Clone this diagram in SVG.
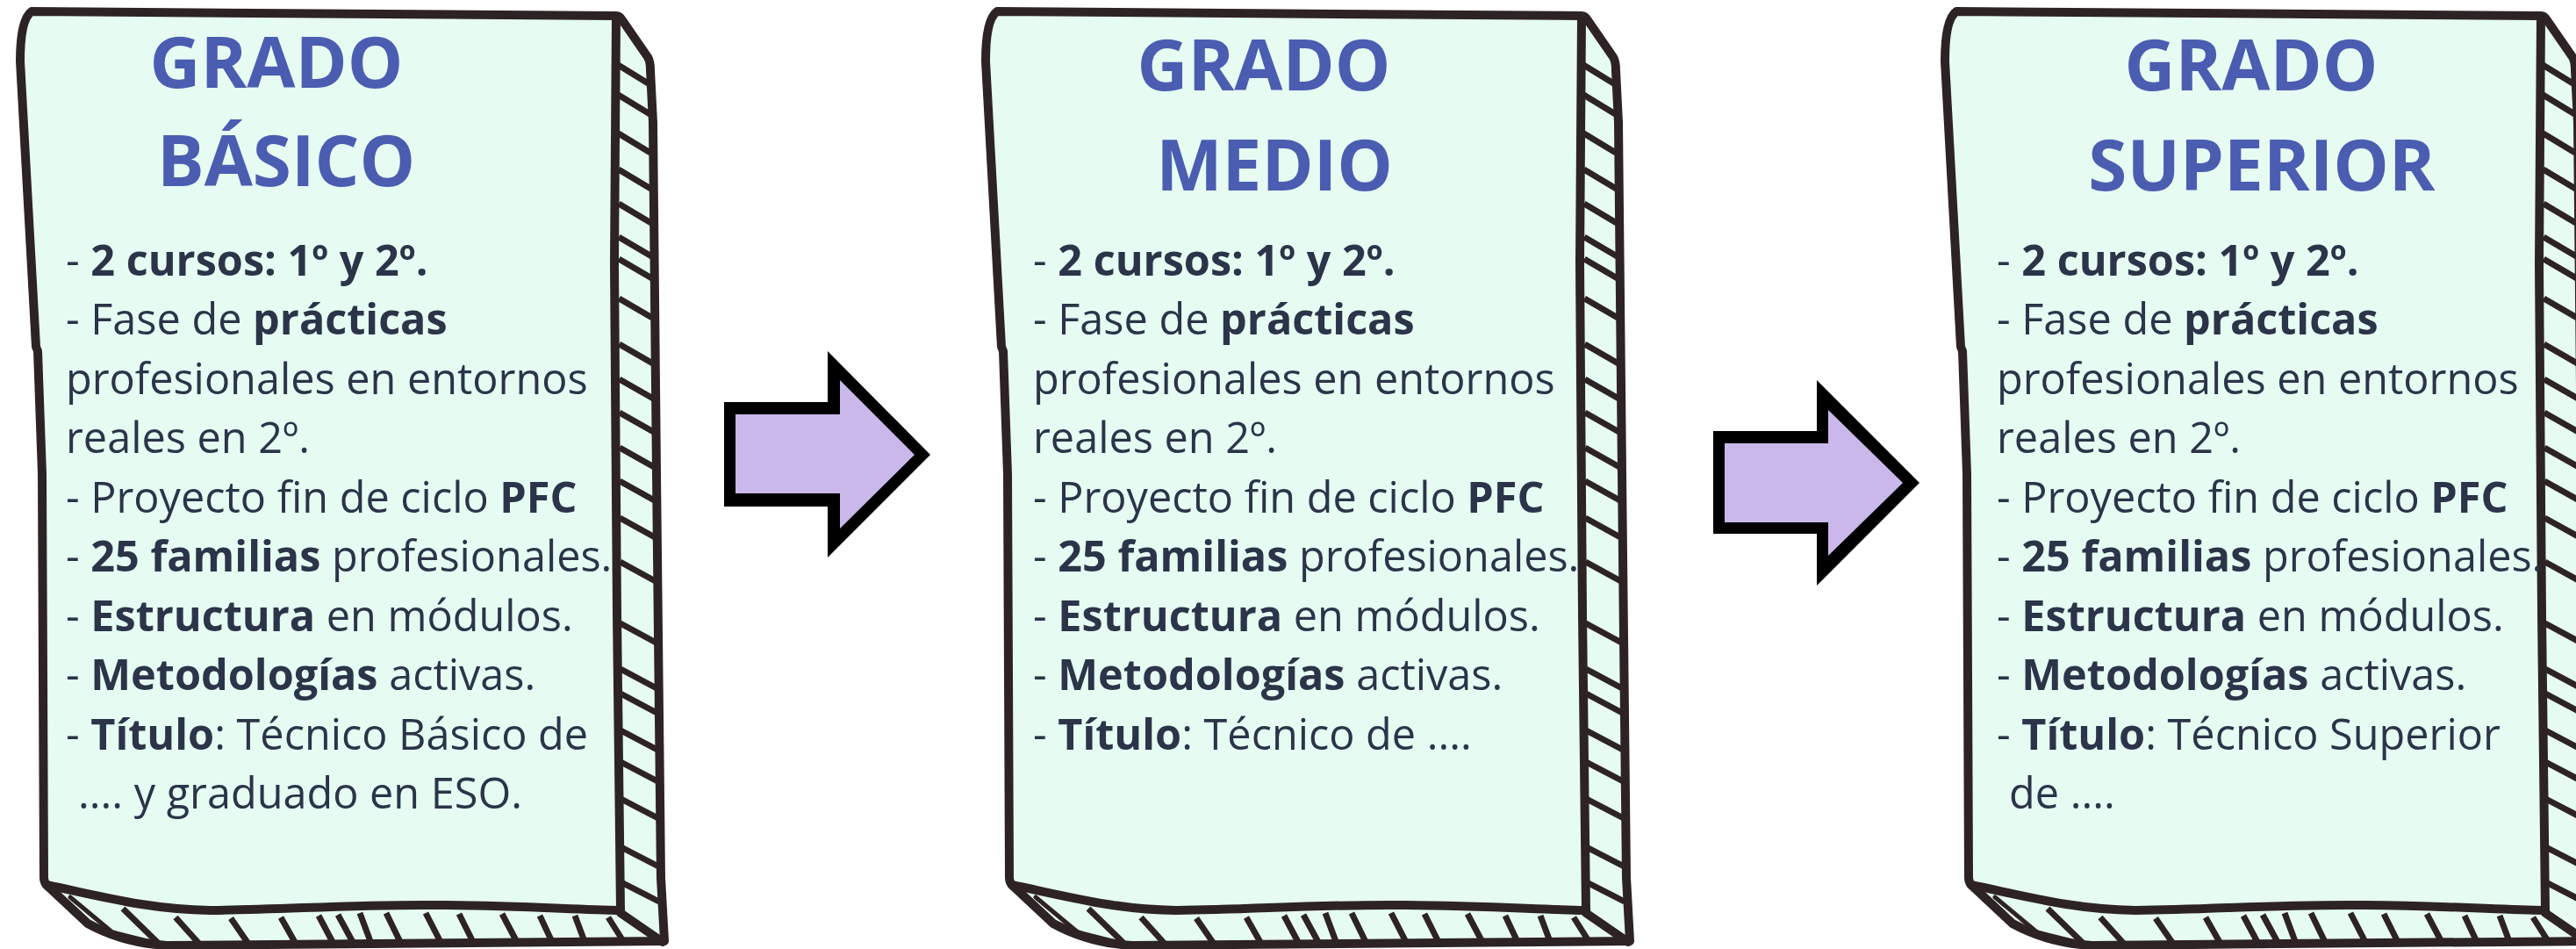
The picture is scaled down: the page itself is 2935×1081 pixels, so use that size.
<svg xmlns="http://www.w3.org/2000/svg" xmlns:xlink="http://www.w3.org/1999/xlink" width="2935" height="1081" viewBox="0 0 2935 1081">
<style>
.fill{fill:#e6fcf3}
.ol{fill:none;stroke:#2e2324;stroke-width:10;stroke-linejoin:round;stroke-linecap:round}
.thin{fill:none;stroke:#2e2324;stroke-width:5;stroke-linejoin:round;stroke-linecap:round}
.hatch{fill:none;stroke:#2e2324;stroke-width:7;stroke-linecap:butt}
.title{font-family:"Open Sans","Liberation Sans",sans-serif;font-weight:700;font-size:80px;fill:#4b5db1;text-anchor:middle}
.body{font-family:"Open Sans","Liberation Sans",sans-serif;font-size:48.6px;fill:#2b3448}
.b{font-weight:700}
.aout{fill:#000000}
.ain{fill:#cbb8ea}
</style>
<defs>
<g id="card">
<path class="fill" d="M36,13 L702,18 Q706,18 709,23 L738,65 Q741,70 741,80 L744,140 L748,540 L753,1000 L757,1072 L190,1077 Q140,1074 100,1052 L55,1010 Q50,1006 50,1000 L48,540 L43,400 L41,395 L23,70 Q23,22 36,13 Z"/>
<path class="ol" d="M36,13 L702,18 Q706,18 709,23 L738,65 Q741,70 741,80 L744,140 L748,540 L753,1000 L757,1072 L190,1077 Q140,1074 100,1052 L55,1010 Q50,1006 50,1000 L48,540 L43,400 L41,395 L23,70 Q23,22 36,13 Z"/>
<path class="ol" d="M702,20 L700,300 L703,700 L707,1037"/>
<path class="ol" d="M53,1008 C120,1022 170,1036 240,1037 C330,1036 400,1030 500,1031 C600,1032 650,1036 707,1037"/>
<path class="ol" d="M707,1040 L755,1073"/>
<path class="thin" d="M80,1022 L128,1062 L172,1073"/>
<path class="hatch" d="M704.3,74 L740.1,96 M704.4,108 L740.5,130 M704.6,152 L741,174 M704.7,193 L741.5,215 M704.9,232 L741.9,254 M705,270 L742.4,292 M705.1,295 L742.7,317 M705.3,340 L743.2,362 M705.5,392 L743.8,414 M705.7,432 L744.3,454 M705.8,470 L744.7,492 M706,510 L745.2,532 M706.1,548 L745.6,570 M706.3,590 L746.1,612 M706.5,640 L746.7,662 M706.7,710 L747.5,732 M706.9,762 L748.1,784 M707,790 L748.4,812 M707.2,832 L748.9,854 M707.3,868 L749.3,890 M707.5,910 L749.8,932 M707.7,965 L750.4,987 M707.9,1005 L750.9,1027"/>
<path class="hatch" d="M140,1035 L180,1074 M200,1045 L227,1075 M263,1046 L283,1075 M320,1045 L337,1075 M363,1043 L380,1075 M385,1042 L403,1075 M410,1040 L423,1075 M440,1040 L457,1075 M485,1040 L503,1075 M523,1041 L540,1075 M572,1041 L590,1075 M615,1043 L630,1075 M655,1043 L667,1075 M693,1045 L712,1075"/>
</g>
</defs>

<g id="connectors">
<g id="arrow-1">
<polygon class="aout" points="825,458 943,458 943,400 1060,518 943,635 943,577 825,577"/>
<polygon class="ain" points="838,472 957,472 957,433 1042,518 957,602 957,562 838,562"/>
</g>
<g id="arrow-2">
<polygon class="aout" points="1952,491 2070,491 2070,433 2187,550 2070,667 2070,608 1952,608"/>
<polygon class="ain" points="1965,505 2083,505 2083,467 2168,550 2083,633 2083,595 1965,595"/>
</g>
</g>

<g id="node-grado-basico">
<use xlink:href="#card" href="#card"/>
<text class="title" x="315" y="100">GRADO</text>
<text class="title" x="326" y="212">BÁSICO</text>
<text class="body" x="75" y="314">- <tspan class="b">2 cursos: 1º y 2º.</tspan></text>
<text class="body" x="75" y="381">- Fase de <tspan class="b">prácticas</tspan></text>
<text class="body" x="75" y="449">profesionales en entornos</text>
<text class="body" x="75" y="516">reales en 2º.</text>
<text class="body" x="75" y="584">- Proyecto fin de ciclo <tspan class="b">PFC</tspan></text>
<text class="body" x="75" y="651">- <tspan class="b">25 familias</tspan> profesionales.</text>
<text class="body" x="75" y="719">- <tspan class="b">Estructura</tspan> en módulos.</text>
<text class="body" x="75" y="786">- <tspan class="b">Metodologías</tspan> activas.</text>
<text class="body" x="75" y="854">- <tspan class="b">Título</tspan>: Técnico Básico de</text>
<text class="body" x="89" y="921">.... y graduado en ESO.</text>
</g>

<g id="node-grado-medio">
<use xlink:href="#card" href="#card" transform="translate(1100,0)"/>
<text class="title" x="1440" y="103">GRADO</text>
<text class="title" x="1452" y="217">MEDIO</text>
<text class="body" x="1177" y="314">- <tspan class="b">2 cursos: 1º y 2º.</tspan></text>
<text class="body" x="1177" y="381">- Fase de <tspan class="b">prácticas</tspan></text>
<text class="body" x="1177" y="449">profesionales en entornos</text>
<text class="body" x="1177" y="516">reales en 2º.</text>
<text class="body" x="1177" y="584">- Proyecto fin de ciclo <tspan class="b">PFC</tspan></text>
<text class="body" x="1177" y="651">- <tspan class="b">25 familias</tspan> profesionales.</text>
<text class="body" x="1177" y="719">- <tspan class="b">Estructura</tspan> en módulos.</text>
<text class="body" x="1177" y="786">- <tspan class="b">Metodologías</tspan> activas.</text>
<text class="body" x="1177" y="854">- <tspan class="b">Título</tspan>: Técnico de ....</text>
</g>

<g id="node-grado-superior">
<use xlink:href="#card" href="#card" transform="translate(2193,0)"/>
<text class="title" x="2565" y="103">GRADO</text>
<text class="title" x="2577" y="217">SUPERIOR</text>
<text class="body" x="2275" y="314">- <tspan class="b">2 cursos: 1º y 2º.</tspan></text>
<text class="body" x="2275" y="381">- Fase de <tspan class="b">prácticas</tspan></text>
<text class="body" x="2275" y="449">profesionales en entornos</text>
<text class="body" x="2275" y="516">reales en 2º.</text>
<text class="body" x="2275" y="584">- Proyecto fin de ciclo <tspan class="b">PFC</tspan></text>
<text class="body" x="2275" y="651">- <tspan class="b">25 familias</tspan> profesionales.</text>
<text class="body" x="2275" y="719">- <tspan class="b">Estructura</tspan> en módulos.</text>
<text class="body" x="2275" y="786">- <tspan class="b">Metodologías</tspan> activas.</text>
<text class="body" x="2275" y="854">- <tspan class="b">Título</tspan>: Técnico Superior</text>
<text class="body" x="2289" y="921">de ....</text>
</g>
</svg>
